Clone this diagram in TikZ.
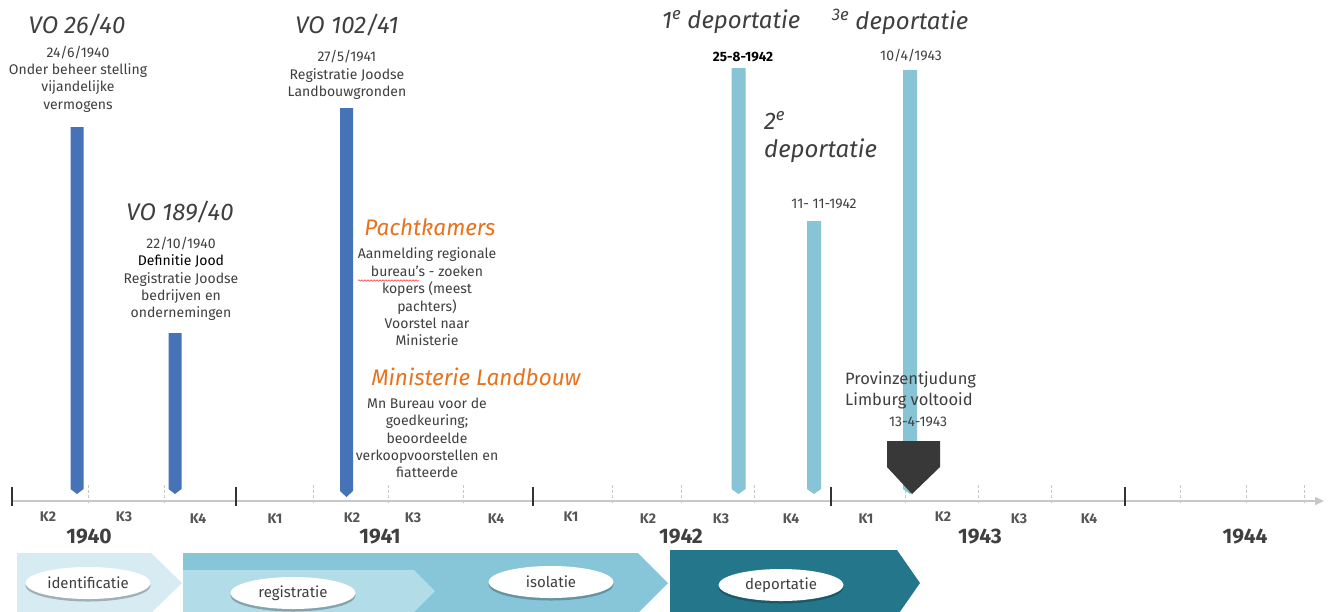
\documentclass[tikz,border=0pt]{standalone}
\usepackage{fontspec}
\setmainfont{Fira Sans}
\usetikzlibrary{shadows,shapes.geometric,decorations.pathmorphing,arrows.meta}
\definecolor{txt}{HTML}{3F3F3F}
\definecolor{kcol}{HTML}{555555}
\definecolor{barblue}{RGB}{70,114,184}
\definecolor{barlight}{RGB}{134,196,214}
\definecolor{orng}{HTML}{E8731C}
\definecolor{axisg}{HTML}{C8C8C8}
\definecolor{chevA}{HTML}{D6EBF2}
\definecolor{chevB}{HTML}{87C5D8}
\definecolor{chevC}{HTML}{B1DCE8}
\definecolor{chevD}{HTML}{24778B}
\definecolor{pent}{HTML}{383838}
\begin{document}
\begin{tikzpicture}[x=1pt,y=-1pt,
  lbl/.style={text=txt,align=center,font=\fontsize{14}{17.4}\selectfont,inner sep=0pt},
  ttl/.style={text=txt,font=\fontsize{24}{28}\selectfont\itshape,inner sep=0pt},
  otl/.style={text=orng,font=\fontsize{22.5}{26}\selectfont\itshape,inner sep=0pt},
  qlbl/.style={text=kcol,font=\fontsize{14}{16}\selectfont\bfseries,inner sep=0pt},
  ylbl/.style={text=txt,font=\fontsize{21}{24}\selectfont\bfseries,inner sep=0pt},
  bblue/.style={fill=barblue},
  blight/.style={fill=barlight},
  majtick/.style={draw=black!80,line width=1.6pt},
  mintick/.style={draw=axisg,line width=0.7pt,dash pattern=on 3pt off 2pt},
  ell/.style={ellipse,fill=white,minimum width=125pt,minimum height=32pt,inner sep=0pt,
     text=txt,font=\fontsize{15}{17}\selectfont,
     drop shadow={shadow xshift=0pt,shadow yshift=-2.5pt,opacity=0.25,fill=black}},
]
\useasboundingbox[fill=white] (0,0) rectangle (1332,611);

% ---- axis ----
\draw[axisg,line width=1.5pt,-{Triangle[length=9pt,width=8pt]}] (12,501) -- (1324,501);
\foreach \x in {88,164,313,388,463,612,681,754,905,978,1051,1180,1246,1304}
  \draw[mintick] (\x,485) -- (\x,503);
\foreach \x in {12,236,533,831,1125}
  \draw[majtick] (\x,487) -- (\x,506);

% quarter labels
\node[qlbl] (q1) at (48,517) {K2};
\node[qlbl] (q2) at (124,517) {K3};
\node[qlbl] (q3) at (198,519) {K4};
\node[qlbl] (q4) at (275,519) {K1};
\node[qlbl] (q5) at (352,518) {K2};
\node[qlbl] (q6) at (413,518) {K3};
\node[qlbl] (q7) at (496,519) {K4};
\node[qlbl] (q8) at (571,517) {K1};
\node[qlbl] (q9) at (648,519) {K2};
\node[qlbl] (q10) at (721,519) {K3};
\node[qlbl] (q11) at (791,519) {K4};
\node[qlbl] (q12) at (866,519) {K1};
\node[qlbl] (q13) at (943,517) {K2};
\node[qlbl] (q14) at (1019,519) {K3};
\node[qlbl] (q15) at (1089,519) {K4};
% years
\node[ylbl] (y40) at (89,537) {1940};
\node[ylbl] (y41) at (380,537) {1941};
\node[ylbl] (y42) at (681,537) {1942};
\node[ylbl] (y43) at (980,537) {1943};
\node[ylbl] (y44) at (1245,537) {1944};

% ---- bars ----
\fill[bblue] (70.5,127) -- (83.5,127) -- (83.5,489) -- (77,494) -- (70.5,489) -- cycle;
\fill[bblue] (168.5,333) -- (181.5,333) -- (181.5,489) -- (175,494) -- (168.5,489) -- cycle;
\fill[bblue] (340,108) -- (353,108) -- (353,491) -- (346.5,497) -- (340,491) -- cycle;
\fill[blight] (731.5,68) -- (745.5,68) -- (745.5,489) -- (738.5,494) -- (731.5,489) -- cycle;
\fill[blight] (807,221) -- (821,221) -- (821,489) -- (814,494) -- (807,489) -- cycle;
\fill[blight] (903,70) -- (917,70) -- (917,489) -- (910,494) -- (903,489) -- cycle;
% pentagon marker
\fill[pent] (887,441) -- (940,441) -- (940,467) -- (912,494) -- (887,467) -- cycle;

% ---- texts ----
\node[ttl] (vo1) at (77,25) {VO 26/40};
\node[lbl] (vo1t) at (78,79) {24/6/1940\\Onder beheer stelling\\vijandelijke\\vermogens};

\node[ttl] (vo2) at (180,212) {VO 189/40};
\node[lbl] (vo2t) at (181,279) {22/10/1940\\\textcolor{black}{Definitie Jood}\\Registratie Joodse\\bedrijven en\\ondernemingen};

\node[ttl] (vo3) at (347,25) {VO 102/41};
\node[lbl] (vo3t) at (347,75) {27/5/1941\\Registratie Joodse\\Landbouwgronden};

\node[otl] (pk) at (430,227) {Pachtkamers};
\node[lbl] (pkt) at (427,297) {Aanmelding regionale\\bureau’s - zoeken\\kopers (meest\\pachters)\\Voorstel naar\\Ministerie};
\draw[red!80,line width=0.5pt,decorate,decoration={snake,amplitude=0.8pt,segment length=3pt}] (358,280.5) -- (419,280.5);

\node[otl] (ml) at (476,377) {Ministerie Landbouw};
\node[lbl] (mlt) at (427,438) {Mn Bureau voor de\\goedkeuring;\\beoordeelde\\verkoopvoorstellen en\\fiatteerde};

\node[ttl] (d1) at (731,22) {1\textsuperscript{e} deportatie};
\node[lbl,font=\fontsize{13.5}{15}\selectfont\bfseries,text=black] (d1t) at (743,57) {25-8-1942};
\node[ttl] (d3) at (900,22) {\textsuperscript{3e} deportatie};
\node[lbl] (d3t) at (911,56) {10/4/1943};
\node[ttl,anchor=west,align=left,font=\fontsize{24}{28}\selectfont\itshape] (d2) at (764,137) {2\textsuperscript{e}\\deportatie};
\node[lbl] (d2t) at (824,204) {11- 11-1942};

\node[lbl,align=left,anchor=west,font=\fontsize{16.5}{21}\selectfont] (pj) at (845,390.5) {Provinzentjudung\\Limburg voltooid};
\node[lbl,font=\fontsize{14}{15}\selectfont] (pjt) at (918,422) {13-4-1943};

% ---- bottom phase chevrons ----
\fill[chevA] (17,553) -- (151,553) -- (182,583) -- (151,613) -- (17,613) -- cycle;
\fill[chevB] (183,553) -- (638,553) -- (668,583) -- (638,613) -- (183,613) -- cycle;
\fill[chevC] (183,570) -- (414,570) -- (435,591) -- (414,612) -- (183,612) -- cycle;
\fill[chevD] (670,550) -- (897,550) -- (920,583) -- (897,616) -- (670,616) -- cycle;

\node[ell] (e1) at (88,583) {identificatie};
\node[ell] (e2) at (293,593) {registratie};
\node[ell] (e3) at (551,582) {isolatie};
\node[ell] (e4) at (781,585) {deportatie};
\end{tikzpicture}
\end{document}
